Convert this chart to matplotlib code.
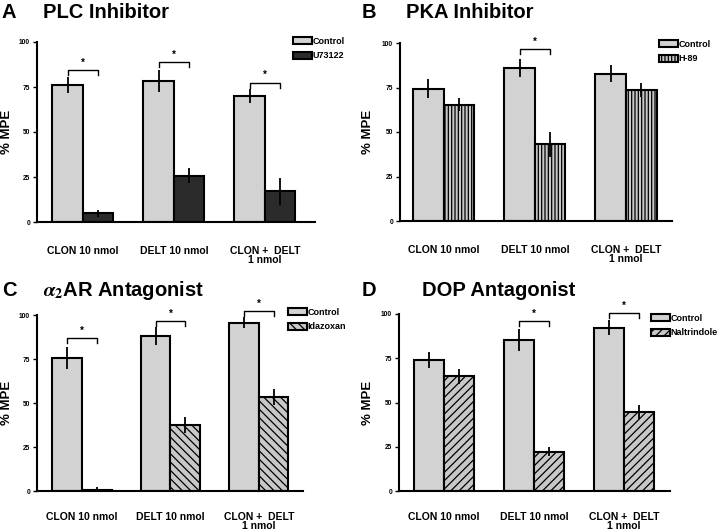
import matplotlib
matplotlib.use("Agg")
import matplotlib.pyplot as plt
import matplotlib.transforms as mtransforms
import numpy as np

plt.rcParams['font.family'] = ['Liberation Sans', 'DejaVu Sans']
plt.rcParams['font.weight'] = 'bold'
plt.rcParams['mathtext.fontset'] = 'stix'
plt.rcParams['hatch.linewidth'] = 0.9

groups = ["CLON 10 nmol", "DELT 10 nmol", "CLON +  DELT\n1 nmol"]

A_control = [76, 78.5, 70]
A_control_err = [4.4, 6.0, 3.8]
A_treat = [4.8, 25.8, 17.0]
A_treat_err = [1.9, 4.0, 7.4]
A_sig = {0: 84.6, 1: 88.7, 2: 77.5}

B_control = [74.4, 86.0, 82.8]
B_control_err = [5.5, 5.2, 4.7]
B_treat = [65.4, 43.0, 73.5]
B_treat_err = [3.5, 7.0, 4.0]
B_sig = {1: 96.4}

C_control = [75.6, 88.0, 95.6]
C_control_err = [6.5, 5.0, 3.0]
C_treat = [0.5, 37.5, 53.2]
C_treat_err = [1.5, 4.7, 4.5]
C_sig = {0: 86.7, 1: 96.8, 2: 102.3}

D_control = [74.1, 85.2, 92.3]
D_control_err = [4.7, 6.3, 4.2]
D_treat = [64.9, 22.3, 44.7]
D_treat_err = [4.2, 2.8, 4.1]
D_sig = {1: 95.9, 2: 100.6}

yticks = [0, 25, 50, 75, 100]

W, H = 720, 532
fig = plt.figure(figsize=(W / 100, H / 100), dpi=100)

CTRL = '#d2d2d2'
GRAYBG = '#c8c8c8'


def px_axes(l, r, t, b):
    return fig.add_axes([l / W, 1 - b / H, (r - l) / W, (b - t) / H])


def panel(box, xlim, letter, title, title_x, letter_y, control, control_err,
          treat, treat_err, treat_label, treat_color, hatch, sig, leg_xy,
          xpad, ylab_x):
    ax = px_axes(*box)
    x = np.arange(len(groups))
    w = 0.335
    b1 = ax.bar(x - w / 2, control, w, color=CTRL, edgecolor='black',
                linewidth=1.5, label='Control', zorder=2)
    b2 = ax.bar(x + w / 2, treat, w, color=treat_color, edgecolor='black',
                linewidth=1.5, hatch=hatch, label=treat_label, zorder=2)
    ax.errorbar(x - w / 2, control, yerr=control_err, fmt='none',
                ecolor='black', elinewidth=1.3, capsize=0, zorder=3)
    ax.errorbar(x + w / 2, treat, yerr=treat_err, fmt='none',
                ecolor='black', elinewidth=1.3, capsize=0, zorder=3)
    for g, h in sig.items():
        xs = [g - w / 2, g - w / 2, g + w / 2, g + w / 2]
        ys = [h - 2.8, h, h, h - 2.8]
        ax.plot(xs, ys, color='black', lw=1.0, clip_on=False, zorder=4)
        ax.text(g, h + 1.2, '*', ha='center', va='bottom', fontsize=7,
                fontweight='bold', clip_on=False)
    ax.set_xlim(*xlim)
    ax.set_ylim(0, 100)
    ax.set_yticks(yticks)
    ax.set_yticklabels([str(v) for v in yticks], fontsize=4.8)
    ax.tick_params(axis='y', length=3, width=1, pad=2, direction='out')
    ax.set_xticks(x)
    ax.set_xticklabels(groups, fontsize=7.5, fontweight='bold',
                       linespacing=0.95)
    ax.tick_params(axis='x', length=0, pad=xpad)
    for s in ['top', 'right']:
        ax.spines[s].set_visible(False)
    for s in ['left', 'bottom']:
        ax.spines[s].set_linewidth(1.5)
    ax.set_ylabel('% MPE', fontsize=9.5, fontweight='bold')
    blend = mtransforms.blended_transform_factory(fig.transFigure, ax.transAxes)
    ax.yaxis.set_label_coords(ylab_x / W, 0.5, transform=blend)
    ax.yaxis.label.set_va('center')
    leg = fig.legend(handles=[b1, b2], loc='upper left',
                     bbox_to_anchor=(leg_xy[0] / W, 1 - leg_xy[1] / H),
                     frameon=False, fontsize=6.5, borderpad=0,
                     handlelength=2.1, handleheight=0.8, handletextpad=0.1,
                     labelspacing=0.6, borderaxespad=0)
    for t in leg.get_texts():
        t.set_fontweight('bold')
    lx = 2 + (360 if box[0] > 360 else 0)
    fig.text(lx / W, letter_y, letter, fontsize=14.5,
             fontweight='bold', ha='left', va='baseline')
    fig.text(title_x, letter_y, title, fontsize=14.5, fontweight='bold',
             ha='left', va='baseline')
    return ax


def fy(ypx):
    return 1 - ypx / H


panel((37, 315, 42, 222), (-0.505, 2.55), 'A', 'PLC Inhibitor', 43 / W, fy(18),
      A_control, A_control_err, A_treat, A_treat_err, 'U73122', '#2b2b2b', None,
      A_sig, (293, 37), 17, 7)
panel((400, 672, 43, 221), (-0.48, 2.505), 'B', 'PKA Inhibitor', 406 / W, fy(18),
      B_control, B_control_err, B_treat, B_treat_err, 'H-89', GRAYBG, '|||||',
      B_sig, (659, 40), 17, 368)
panel((37, 303, 315, 491), (-0.51, 2.5), 'C', r'$\alpha_2$AR Antagonist', 43 / W,
      fy(296), C_control, C_control_err, C_treat, C_treat_err, 'Idazoxan',
      GRAYBG, '\\\\\\\\', C_sig, (288, 308), 15, 7)
panel((399, 670, 314, 491), (-0.5, 2.51), 'D', 'DOP Antagonist', 422 / W,
      fy(296), D_control, D_control_err, D_treat, D_treat_err, 'Naltrindole',
      GRAYBG, '////', D_sig, (651, 314), 15, 368)

fig.savefig('out.png', dpi=100)
